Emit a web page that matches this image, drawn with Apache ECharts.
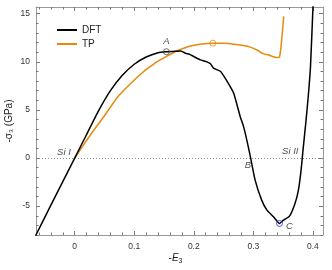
<!DOCTYPE html>
<html><head><meta charset="utf-8">
<script src="https://cdn.jsdelivr.net/npm/echarts@6/dist/echarts.min.js"></script>
<style>html,body{margin:0;padding:0;background:#fff}#c{width:332px;height:270px}</style>
</head><body><div id="c"></div>
<script>
const dftX = [-0.07,-0.04,-0.02,0,0.02,0.04,0.06,0.08,0.10,0.12,0.14,0.154,0.165,0.178,0.186,0.194,0.20,0.211,0.222,0.228,0.233,0.245,0.256,0.267,0.278,0.2836,0.29,0.295,0.303,0.314,0.3228,0.3338,0.344,0.3506,0.3607,0.37,0.3757,0.3802,0.384,0.3886,0.3925,0.396,0.4005];
const dftY = [-8.6,-4.9,-2.45,0,2.45,4.9,7.0,8.6,9.75,10.5,10.95,11.05,11.08,11.12,10.9,10.75,10.55,10.2,10.0,9.8,9.34,9.0,7.97,6.74,4.3,3.26,1.6,0.14,-2.29,-4.375,-5.42,-6.11,-6.8,-6.46,-6.04,-4.72,-3.33,-1.25,1.18,3.96,6.6,9.5,16.2];
const tpX = [0,0.0268,0.05,0.0715,0.094,0.116,0.127,0.1385,0.155,0.172,0.183,0.2,0.211,0.232,0.25,0.267,0.283,0.295,0.307,0.317,0.325,0.338,0.344,0.351];
const tpY = [0,2.45,4.4,6.3,7.75,9.0,9.51,10.03,10.6,11.15,11.42,11.72,11.84,11.94,11.92,11.84,11.7,11.53,11.2,10.83,10.73,10.45,10.5,14.72];
const markA = [0.154, 11.05];
const markTP = [0.232, 11.94];
const markC = [0.344, -6.8];
const annNames = ['A','B','C','Si I','Si II'];
const annX = [0.154, 0.291, 0.3606, -0.018, 0.362];
const annY = [12.15, -0.8, -7.15, 0.6, 0.73];
const xMajor = [0,0.1,0.2,0.3,0.4];
const xMinor = [-0.06,-0.04,-0.02,0.02,0.04,0.06,0.08,0.12,0.14,0.16,0.18,0.22,0.24,0.26,0.28,0.32,0.34,0.36,0.38];
const yMajor = [-5,0,5,10,15];
const yMinor = [-8,-7,-6,-4,-3,-2,-1,1,2,3,4,6,7,8,9,11,12,13,14];
const xMin=-0.065, xMax=0.417, yMin=-8, yMax=15.7;

const zip=(a,b)=>a.map((v,i)=>[v,b[i]]);
const frame='#999', tickC='#777';
const lblStyle={color:'#333', fontSize:8.5, fontFamily:'Liberation Sans'};
function xa(pos, vals, len, labelVals, line){
  return {type:'value', position:pos, min:xMin, max:xMax, splitLine:{show:false}, nameMoveOverlap:false,
    axisLine:{show:line, onZero:false, lineStyle:{color:frame,width:1}},
    axisTick:{show:true, inside:true, length:len, customValues:vals, lineStyle:{color:tickC}},
    axisLabel:Object.assign({show:!!labelVals, customValues:labelVals||vals, hideOverlap:false, margin:7,
      formatter:v=>(Math.round(v*10)/10).toString()},lblStyle)};
}
function ya(pos, vals, len, labelVals, line){
  return {type:'value', position:pos, min:yMin, max:yMax, splitLine:{show:false}, nameMoveOverlap:false,
    axisLine:{show:line, onZero:false, lineStyle:{color:frame,width:1}},
    axisTick:{show:true, inside:true, length:len, customValues:vals, lineStyle:{color:tickC}},
    axisLabel:Object.assign({show:!!labelVals, customValues:labelVals||vals, hideOverlap:false, margin:6,
      formatter:v=>String(Math.round(v))},lblStyle)};
}
const xAxes=[xa('bottom',xMajor,4,null,true), xa('bottom',xMinor,2.5,xMajor,false), xa('top',xMajor,4,null,true), xa('top',xMinor,2.5,null,false)];
xAxes[0].name='-{i|E}{s|3}'; xAxes[0].nameLocation='middle'; xAxes[0].nameGap=17;
xAxes[0].nameTextStyle={color:'#222',fontSize:10,fontFamily:'Liberation Sans',padding:[0,8,0,0],rich:{i:{fontStyle:'italic',fontSize:10,fontFamily:'Liberation Sans',color:'#222'},s:{fontSize:7,verticalAlign:'bottom',padding:[6,0,0,0],fontFamily:'Liberation Sans',color:'#222'}}};
const yAxes=[ya('left',yMajor,4,yMajor,true), ya('left',yMinor,2.5,null,false), ya('right',yMajor,4,null,true), ya('right',yMinor,2.5,null,false)];

const chart=echarts.init(document.getElementById('c'),null,{renderer:'canvas'});
chart.setOption({
  animation:false,
  grid:{left:36,right:9,top:7,bottom:35,containLabel:false,outerBoundsMode:'none'},
  legend:{left:52,top:20,orient:'vertical',itemGap:4,itemWidth:20,itemHeight:2,icon:'rect',
    textStyle:{fontSize:10,color:'#222',fontFamily:'Liberation Sans'},data:['DFT','TP']},
  graphic:[{type:'text',x:9,y:121,rotation:Math.PI/2,z:100,
    style:{text:'-σ₃ (GPa)',align:'center',verticalAlign:'middle',fill:'#222',fontSize:10,fontFamily:'Liberation Sans'}}],
  xAxis:xAxes, yAxis:yAxes,
  series:[
    {name:'DFT',type:'line',data:zip(dftX,dftY),symbol:'none',smooth:0.15,lineStyle:{color:'#000',width:1.5},itemStyle:{color:'#000'},clip:true,z:3,
      markLine:{silent:true,symbol:'none',label:{show:false},lineStyle:{color:'#888',type:[1,2],width:1},data:[{yAxis:0}]}},
    {name:'TP',type:'line',data:zip(tpX,tpY),symbol:'none',smooth:0.2,lineStyle:{color:'#e68a0c',width:1.5},itemStyle:{color:'#e68a0c'},clip:true,z:2},
    {type:'scatter',data:[markA],symbol:'circle',symbolSize:6,itemStyle:{color:'rgba(0,0,0,0)',borderColor:'#444',borderWidth:1},z:4},
    {type:'scatter',data:[markTP],symbol:'circle',symbolSize:6,itemStyle:{color:'rgba(0,0,0,0)',borderColor:'#e68a0c',borderWidth:1},z:4},
    {type:'scatter',data:[markC],symbol:'circle',symbolSize:6,itemStyle:{color:'rgba(0,0,0,0)',borderColor:'#2233dd',borderWidth:1},z:4},
    {type:'scatter',symbolSize:0,z:5,data:annNames.map((n,i)=>({name:n,value:[annX[i],annY[i]]})),
      label:{show:true,position:'inside',formatter:p=>p.name,fontStyle:'italic',fontSize:9.5,color:'#222',fontFamily:'Liberation Sans'}}
  ]
});
</script></body></html>
